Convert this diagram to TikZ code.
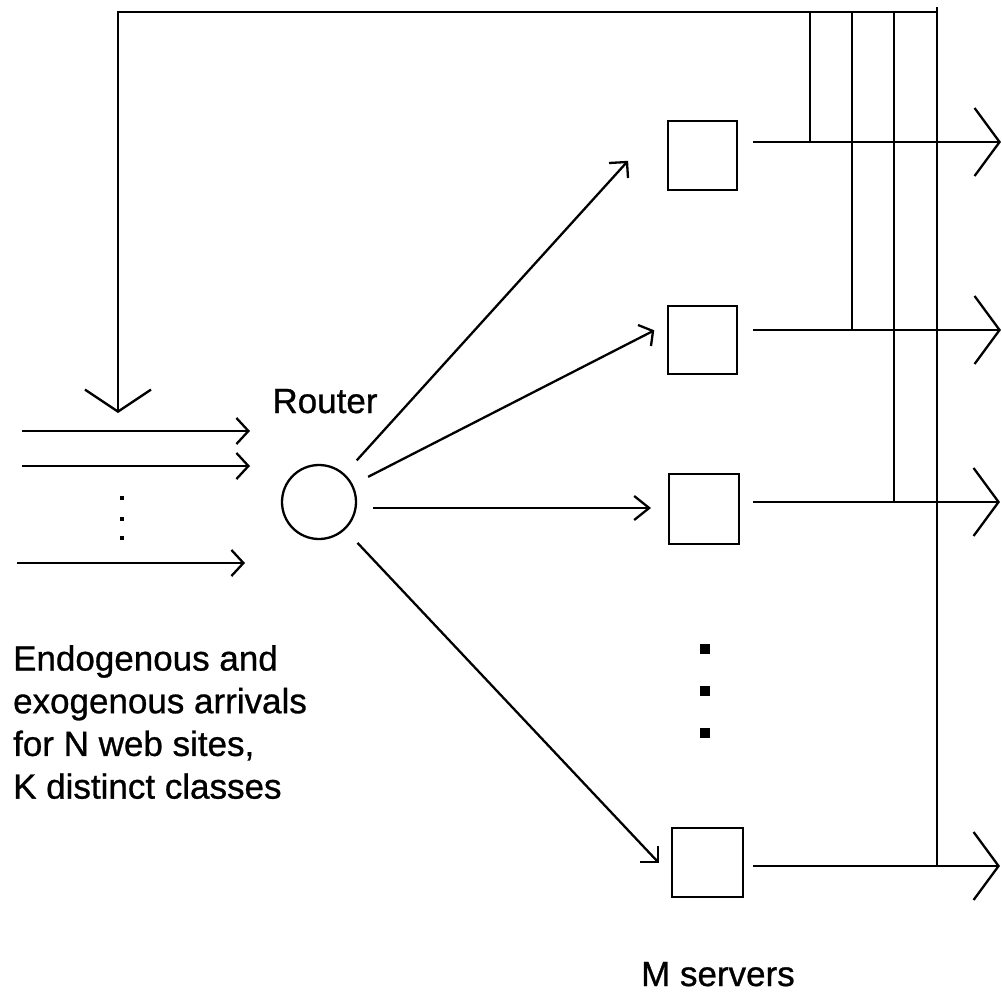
\documentclass[tikz,border=0pt]{standalone}
\usepackage{fontspec}
\setmainfont[FakeBold=0.8]{Liberation Sans}
\usetikzlibrary{arrows.meta}
\begin{document}
\begin{tikzpicture}[x=1pt,y=-1pt, line width=2.3pt,
  srv/.style={draw, inner sep=0, line width=2.3pt},
  bigtip/.style={-{Straight Barb[length=25pt,width=68pt]}},
  smalltip/.style={-{Straight Barb[length=12pt,width=26pt]}},
  midtip/.style={-{Straight Barb[length=15pt,width=24pt]}},
  fbtip/.style={-{Straight Barb[length=22pt,width=66pt]}},
  lbl/.style={font=\fontsize{35}{42.7}\selectfont, inner sep=0},
  bigdot/.style={fill, minimum size=10pt, inner sep=0},
  tinydot/.style={fill, minimum size=4pt, inner sep=0}]
\useasboundingbox (0,0) rectangle (1002,993);

% router
\node[draw, circle, minimum size=74pt, inner sep=0] (router) at (319,502) {};
\node[lbl, anchor=base] (routerlbl) at (325,413) {Router};

% servers
\node[srv, minimum width=69pt, minimum height=69pt] (s1) at (702.5,155.5) {};
\node[srv, minimum width=69pt, minimum height=68pt] (s2) at (702.5,340) {};
\node[srv, minimum width=70pt, minimum height=70pt] (s3) at (704,509) {};
\node[srv, minimum width=71pt, minimum height=69pt] (s4) at (707.5,862.5) {};

% middle dots
\node[bigdot] (md1) at (705,649) {};
\node[bigdot] (md2) at (705,691) {};
\node[bigdot] (md3) at (705,733) {};

% input arrivals
\coordinate (a1s) at (22,431);  \coordinate (a1e) at (250,431);
\coordinate (a2s) at (22,466);  \coordinate (a2e) at (250,466);
\coordinate (a3s) at (17,563);  \coordinate (a3e) at (245,563);
\draw[smalltip] (a1s) -- (a1e);
\draw[smalltip] (a2s) -- (a2e);
\draw[smalltip] (a3s) -- (a3e);
\node[tinydot] (ld1) at (122,498) {};
\node[tinydot] (ld2) at (122,519) {};
\node[tinydot] (ld3) at (122,538) {};

% router to servers
\coordinate (t1) at (627,162);
\coordinate (t2) at (653,331);
\coordinate (t3) at (651,508);
\coordinate (t4) at (658,862);
\draw[shorten <=18pt] (router) -- (t1);
\draw (t1) ++(-18,1) -- (t1) -- ++(1,16);
\draw[shorten <=17pt] (router) -- (t2);
\draw (t2) ++(-15,-6) -- (t2) -- ++(-2,15);
\draw[midtip] (router.east |- t3) ++(16,0) -- (t3);
\draw[shorten <=18pt] (router) -- (t4);
\draw (t4) ++(0,-16) -- (t4) -- ++(-18,0);

% outputs
\coordinate (o1) at (1001,142);
\coordinate (o2) at (1001,330);
\coordinate (o3) at (1000,502);
\coordinate (o4) at (1000,866);
\draw[bigtip, shorten <=15pt] (s1.east |- o1) -- (o1);
\draw[bigtip, shorten <=15pt] (s2.east |- o2) -- (o2);
\draw[bigtip, shorten <=13pt] (s3.east |- o3) -- (o3);
\draw[bigtip, shorten <=9pt] (s4.east |- o4) -- (o4);

% feedback
\coordinate (j1) at (810,142);
\coordinate (j2) at (852,330);
\coordinate (j3) at (894,502);
\coordinate (j4) at (937,866);
\coordinate (topR) at (937,12);
\coordinate (topL) at (118,12);
\coordinate (fb) at (118,413);
\draw (j1) -- (810,13);
\draw (j2) -- (852,12);
\draw (j3) -- (894,12);
\draw (j4) -- (937,7);
\draw[fbtip] (topR) -- (topL) -- (fb);

% labels
\node[lbl, anchor=north west, align=left] (desc) at (12,644)
  {Endogenous and\\exogenous arrivals\\for N web sites,\\K distinct classes};
\node[lbl, anchor=base west] (mserv) at (640,986) {M servers};
\end{tikzpicture}
\end{document}
